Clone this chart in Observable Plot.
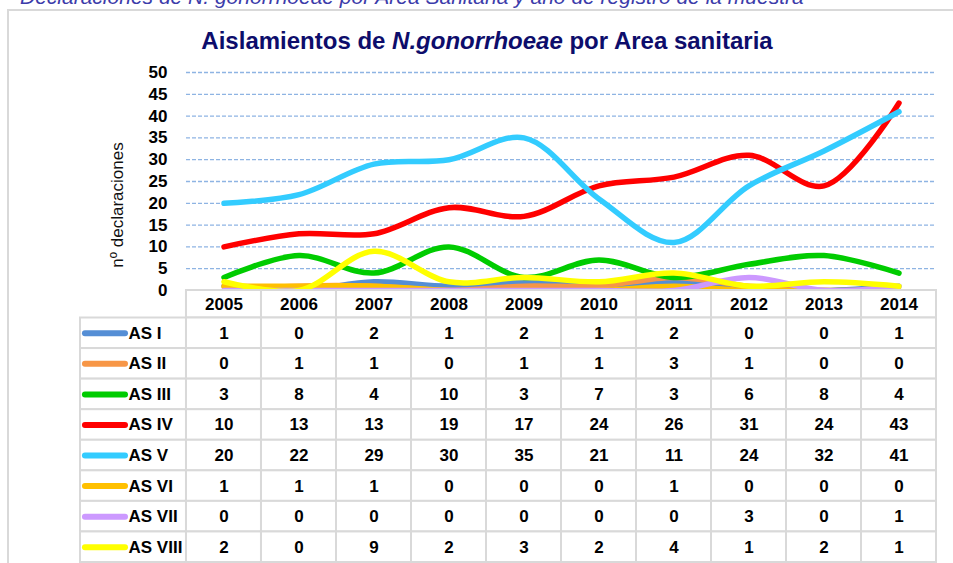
<!DOCTYPE html>
<html><head><meta charset="utf-8">
<script src="https://cdn.jsdelivr.net/npm/d3@7"></script>
<script src="https://cdn.jsdelivr.net/npm/@observablehq/plot@0.6"></script>
<style>
html,body{margin:0;padding:0;background:#fff;width:953px;height:563px;overflow:hidden;font-family:"Liberation Sans",Arial,sans-serif;}
#wrap{position:relative;width:953px;height:563px;}
#frame{position:absolute;left:7px;top:9px;width:1000px;height:700px;border:2px solid #d9d9d9;box-sizing:border-box;}
#sub{position:absolute;left:20px;top:-15px;font-size:21px;font-style:italic;color:#3c3caa;white-space:nowrap;}
#title{position:absolute;left:0;width:974px;top:27px;text-align:center;font-size:24px;font-weight:bold;color:#0d0d6b;white-space:nowrap;}
#ylab{position:absolute;left:118px;top:205px;transform:translate(-50%,-50%) rotate(-90deg);font-size:17px;color:#111;white-space:nowrap;}
#chart{position:absolute;left:0;top:60px;}
#table{position:absolute;left:0;top:290px;}
svg{overflow:visible;}
</style></head>
<body><div id="wrap">
<div id="frame"></div>
<div id="sub">Declaraciones de N. gonorrhoeae  por Area Sanitaria y año de registro de la muestra</div>
<div id="title">Aislamientos de <i>N.gonorrhoeae</i> por Area sanitaria</div>
<div id="ylab">nº declaraciones</div>
<div id="chart"></div>
<div id="table"></div>
</div>
<script>
const years = [2005, 2006, 2007, 2008, 2009, 2010, 2011, 2012, 2013, 2014];
const series = ["AS I", "AS II", "AS III", "AS IV", "AS V", "AS VI", "AS VII", "AS VIII"];
const colors = ["#558ed5", "#f79646", "#00cc00", "#ff0000", "#33ccff", "#ffc000", "#cc99ff", "#ffff00"];
const asI    = [1, 0, 2, 1, 2, 1, 2, 0, 0, 1];
const asII   = [0, 1, 1, 0, 1, 1, 3, 1, 0, 0];
const asIII  = [3, 8, 4, 10, 3, 7, 3, 6, 8, 4];
const asIV   = [10, 13, 13, 19, 17, 24, 26, 31, 24, 43];
const asV    = [20, 22, 29, 30, 35, 21, 11, 24, 32, 41];
const asVI   = [1, 1, 1, 0, 0, 0, 1, 0, 0, 0];
const asVII  = [0, 0, 0, 0, 0, 0, 0, 3, 0, 1];
const asVIII = [2, 0, 9, 2, 3, 2, 4, 1, 2, 1];
const yTicks = [0, 5, 10, 15, 20, 25, 30, 35, 40, 45, 50];
const gridTicks = [5, 10, 15, 20, 25, 30, 35, 40, 45, 50];

const values = [asI, asII, asIII, asIV, asV, asVI, asVII, asVIII];
const long = [];
values.forEach((arr, i) => arr.forEach((v, j) => long.push({series: series[i], year: years[j], value: v, i, j})));

const colorScale = {domain: series, range: colors};

const chart = Plot.plot({
  width: 953, height: 230,
  marginTop: 12, marginBottom: 0, marginLeft: 186, marginRight: 17,
  x: {type: "linear", domain: [2004.5, 2014.5], axis: null},
  y: {domain: [0, 50], axis: null},
  color: colorScale,
  style: {background: "transparent", overflow: "visible"},
  marks: [
    Plot.ruleY(gridTicks, {x1: 2004.5, x2: 2014.48, stroke: "#8eb4e3", strokeWidth: 1.3, strokeDasharray: "4,2"}),
    Plot.axisY(yTicks, {label: null, tickSize: 0, tickPadding: 19, fontSize: 17, fontWeight: "bold", fill: "#000", fontFamily: "Liberation Sans, Arial, sans-serif", tickFormat: d => d}),
    Plot.line(long, {x: "year", y: "value", z: "series", stroke: "series", strokeWidth: 5.5, curve: "catmull-rom", clip: true, strokeLinecap: "round"})
  ]
});
document.getElementById("chart").appendChild(chart);

const rowIdx = series.map((s, i) => ({series: s, i}));
const hdr = years.map((y, j) => ({year: y, j}));

const table = Plot.plot({
  width: 953, height: 273,
  marginTop: 0, marginBottom: 1, marginLeft: 80, marginRight: 17,
  x: {type: "linear", domain: [-1.413, 10], axis: null},
  y: {type: "linear", domain: [8, -0.9], axis: null},
  color: colorScale,
  style: {background: "transparent", overflow: "visible", fontFamily: "Liberation Sans, Arial, sans-serif"},
  marks: [
    Plot.rect(hdr, {x1: d => d.j, x2: d => d.j + 1, y1: () => -0.9, y2: () => 0, fill: "#fff", stroke: "#d9d9d9", strokeWidth: 2}),
    Plot.rect(rowIdx, {x1: () => -1.413, x2: () => 0, y1: d => d.i, y2: d => d.i + 1, fill: "#fff", stroke: "#d9d9d9", strokeWidth: 2}),
    Plot.rect(long, {x1: d => d.j, x2: d => d.j + 1, y1: d => d.i, y2: d => d.i + 1, fill: "#fff", stroke: "#d9d9d9", strokeWidth: 2}),
    Plot.text(hdr, {x: d => d.j + 0.5, y: () => -0.45, text: d => String(d.year), fontSize: 17, fontWeight: "bold", fill: "#000"}),
    Plot.text(long, {x: d => d.j + 0.5, y: d => d.i + 0.5, text: d => String(d.value), fontSize: 17, fontWeight: "bold", fill: "#000"}),
    Plot.ruleY(rowIdx, {y: d => d.i + 0.5, x1: () => -1.347, x2: () => -0.813, stroke: "series", strokeWidth: 6, strokeLinecap: "round"}),
    Plot.text(rowIdx, {x: () => -0.773, y: d => d.i + 0.5, text: "series", textAnchor: "start", fontSize: 17, fontWeight: "bold", fill: "#000"})
  ]
});
document.getElementById("table").appendChild(table);
</script>
</body></html>
